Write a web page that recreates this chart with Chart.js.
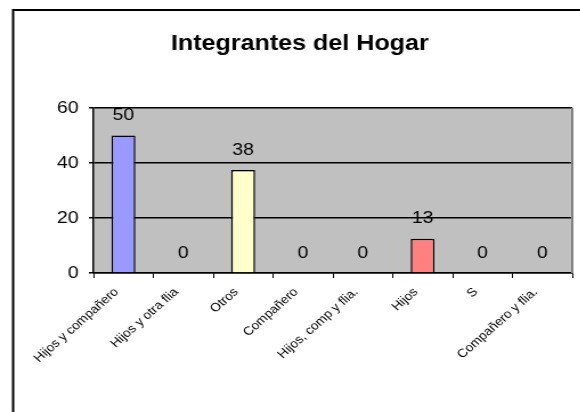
<!DOCTYPE html>
<html>
<head>
<meta charset="utf-8">
<script src="https://cdn.jsdelivr.net/npm/chart.js@4"></script>
<style>
  html, body { margin: 0; padding: 0; background: #fff; overflow: hidden; }
  #wrap { width: 580px; height: 412px; position: relative; overflow: hidden; }
  /* the original picture is stretched a little horizontally */
  #chart { position: absolute; left: 0; top: 0; transform: scaleX(1.14); transform-origin: 0 0; }
</style>
</head>
<body>
<div id="wrap"><canvas id="chart" width="509" height="412"></canvas></div>
<script>
// ===== Integrantes del Hogar =====

// Data
const categorias = ['Hijos y compañero', 'Hijos y otra flia', 'Otros', 'Compañero', 'Hijos, comp y flia.', 'Hijos', 'S', 'Compañero y flia.'];
const valores = [50, 0, 37.5, 0, 0, 12.5, 0, 0];
const colores = ['#9999FF', '#9999FF', '#FFFFCC', '#FFFFCC', '#FFFFCC', '#FF8080', '#FF8080', '#FF8080'];
const yTicks = [0, 20, 40, 60];

const FONT = 'Arial, "Liberation Sans", sans-serif';

// Frame, plot background and grey border
const fondo = {
    id: 'fondo',
    beforeDraw(chart) {
        const { ctx, chartArea: a } = chart;
        ctx.save();
        ctx.fillStyle = '#fff';
        ctx.fillRect(0, 0, chart.width, chart.height);
        ctx.strokeStyle = '#000';
        ctx.lineWidth = 2;
        ctx.strokeRect(11.5, 10, 640, 480);
        ctx.fillStyle = '#C0C0C0';
        ctx.fillRect(a.left, a.top, a.right - a.left, a.bottom - a.top);
        ctx.restore();
    },
    afterDraw(chart) {
        const { ctx, chartArea: a } = chart;
        ctx.save();
        ctx.strokeStyle = '#808080';
        ctx.lineWidth = 2;
        ctx.beginPath();
        ctx.moveTo(a.right, a.top);
        ctx.lineTo(a.right, a.bottom);
        ctx.stroke();
        ctx.restore();
    }
};

// Value labels above bars
const etiquetas = {
    id: 'etiquetas',
    afterDatasetsDraw(chart) {
        const { ctx } = chart;
        const meta = chart.getDatasetMeta(0);
        ctx.save();
        ctx.font = '17px ' + FONT;
        ctx.fillStyle = '#000';
        ctx.textAlign = 'center';
        ctx.textBaseline = 'middle';
        meta.data.forEach((bar, i) => {
            ctx.fillText(String(Math.round(valores[i])), bar.x, bar.y - 20);
        });
        ctx.restore();
    }
};

new Chart(document.getElementById('chart'), {
    type: 'bar',
    data: {
        labels: categorias,
        datasets: [{
            data: valores,
            backgroundColor: colores,
            borderColor: '#000',
            borderWidth: 1.5,
            barPercentage: 0.4,
            categoryPercentage: 1
        }]
    },
    options: {
        responsive: false,
        animation: false,
        layout: { padding: { left: 24, right: 7, top: 0, bottom: 0 } },
        plugins: {
            legend: { display: false },
            tooltip: { enabled: false },
            title: {
                display: true,
                text: 'Integrantes del Hogar',
                color: '#000',
                font: { family: FONT, size: 22, weight: 'bold' },
                padding: { top: 31, bottom: 50.6 }
            }
        },
        scales: {
            x: {
                grid: { display: true, drawOnChartArea: false, drawTicks: true, tickLength: 5, color: '#000', offset: true },
                border: { display: true, color: '#000', width: 1.5 },
                ticks: {
                    autoSkip: false,
                    minRotation: 45,
                    maxRotation: 45,
                    labelOffset: -6,
                    padding: 7,
                    color: '#000',
                    font: { family: FONT, size: 12 }
                },
                afterFit(scale) {
                    scale.height = 139;
                    scale.paddingLeft = 0;
                    scale.paddingRight = 0;
                }
            },
            y: {
                min: 0,
                max: 60,
                afterBuildTicks(scale) {
                    scale.ticks = yTicks.map(v => ({ value: v }));
                },
                grid: {
                    drawTicks: true,
                    tickLength: 4,
                    lineWidth: 1.5,
                    color: ctx => (ctx.tick && ctx.tick.value === 60 && ctx.type !== 'tick') ? '#808080' : '#000'
                },
                border: { display: true, color: '#000', width: 1.5 },
                ticks: {
                    padding: 9,
                    color: '#000',
                    font: { family: FONT, size: 17 }
                },
                afterFit(scale) {
                    scale.width = 58;
                    scale.paddingTop = 0;
                    scale.paddingBottom = 0;
                }
            }
        }
    },
    plugins: [fondo, etiquetas]
});
</script>
</body>
</html>
